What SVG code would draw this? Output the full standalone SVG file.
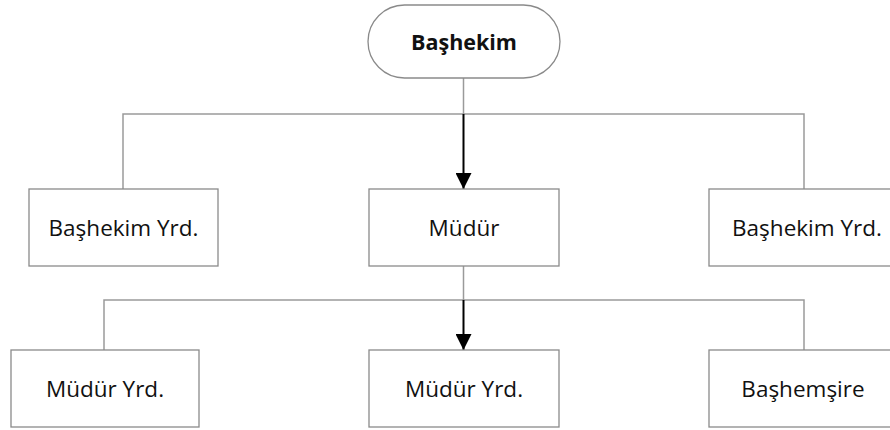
<svg xmlns="http://www.w3.org/2000/svg" width="890" height="430" viewBox="0 0 890 430">
  <style>
    .box { fill: #ffffff; stroke: #8a8a8a; stroke-width: 1.3; }
    .link { fill: none; stroke: #9a9a9a; stroke-width: 1.5; }
    .arrow { fill: none; stroke: #000000; stroke-width: 2; marker-end: url(#head); }
    .label { font-family: "Open Sans", "Liberation Sans", sans-serif; font-size: 22.5px; fill: #111111; text-anchor: middle; dominant-baseline: central; }
    .title { font-weight: bold; font-size: 21.5px; }
  </style>
  <defs>
    <marker id="head" viewBox="0 0 16 16" refX="16" refY="8" markerWidth="16" markerHeight="16" markerUnits="userSpaceOnUse" orient="auto">
      <path d="M0,0 L16,8 L0,16 Z" fill="#000000"/>
    </marker>
  </defs>
  <rect width="890" height="430" fill="#ffffff"/>

  <!-- connectors: grey elbow lines, black arrows down the middle -->
  <g id="connectors">
    <path class="link" d="M463.5,78 V114 M123,189 V114 H804 V189"/>
    <path class="link" d="M463.5,266 V300 M104,350 V300 H804 V350"/>
    <path class="arrow" d="M463.5,114 V189"/>
    <path class="arrow" d="M463.5,300 V350"/>
  </g>

  <g id="bashekim">
    <rect class="box" x="368" y="5" width="192" height="73" rx="36.5" ry="36.5"/>
    <text class="label title" x="464" y="41">Başhekim</text>
  </g>

  <g id="bashekim-yrd-1">
    <rect class="box" x="29" y="189" width="189" height="77"/>
    <text class="label" x="123.5" y="227">Başhekim Yrd.</text>
  </g>

  <g id="mudur">
    <rect class="box" x="369" y="189" width="190" height="77"/>
    <text class="label" x="464" y="227">Müdür</text>
  </g>

  <g id="bashekim-yrd-2">
    <rect class="box" x="709" y="189" width="190" height="77"/>
    <text class="label" x="807" y="227">Başhekim Yrd.</text>
  </g>

  <g id="mudur-yrd-1">
    <rect class="box" x="11" y="350" width="188" height="77"/>
    <text class="label" x="105" y="388">Müdür Yrd.</text>
  </g>

  <g id="mudur-yrd-2">
    <rect class="box" x="369" y="350" width="190" height="77"/>
    <text class="label" x="464" y="388">Müdür Yrd.</text>
  </g>

  <g id="bashemsire">
    <rect class="box" x="709" y="350" width="190" height="77"/>
    <text class="label" x="803" y="388">Başhemşire</text>
  </g>
</svg>
